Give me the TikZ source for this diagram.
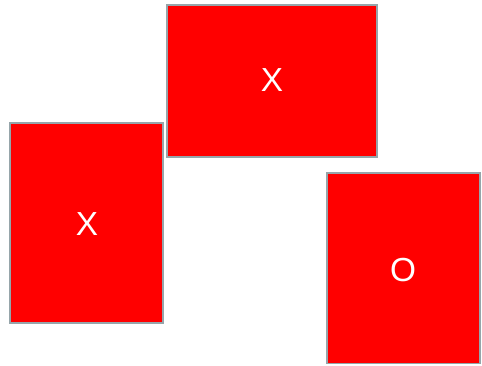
\documentclass[tikz,border=0pt]{standalone}
\usepackage{fontspec}
\setmainfont{Liberation Sans}
\definecolor{cellred}{RGB}{255,0,0}
\definecolor{cellgray}{RGB}{150,165,170}
\begin{document}
\begin{tikzpicture}[x=0.75pt,y=-0.75pt,
  cell/.style={draw=cellgray, line width=1.4pt, fill=cellred},
  sign/.style={text=white, inner sep=0pt, font=\fontsize{25}{29}\selectfont}]
\useasboundingbox (0,0) rectangle (482,365);

\draw[cell] (167,5) rectangle (377,157);
\node[sign] (xtop) at (272,80) {X};

\draw[cell] (10,123) rectangle (163,323);
\node[sign] (xleft) at (87,224) {X};

\draw[cell] (327,173) rectangle (480,363.5);
\node[sign] (oright) at (403,270) {O};
\end{tikzpicture}
\end{document}
